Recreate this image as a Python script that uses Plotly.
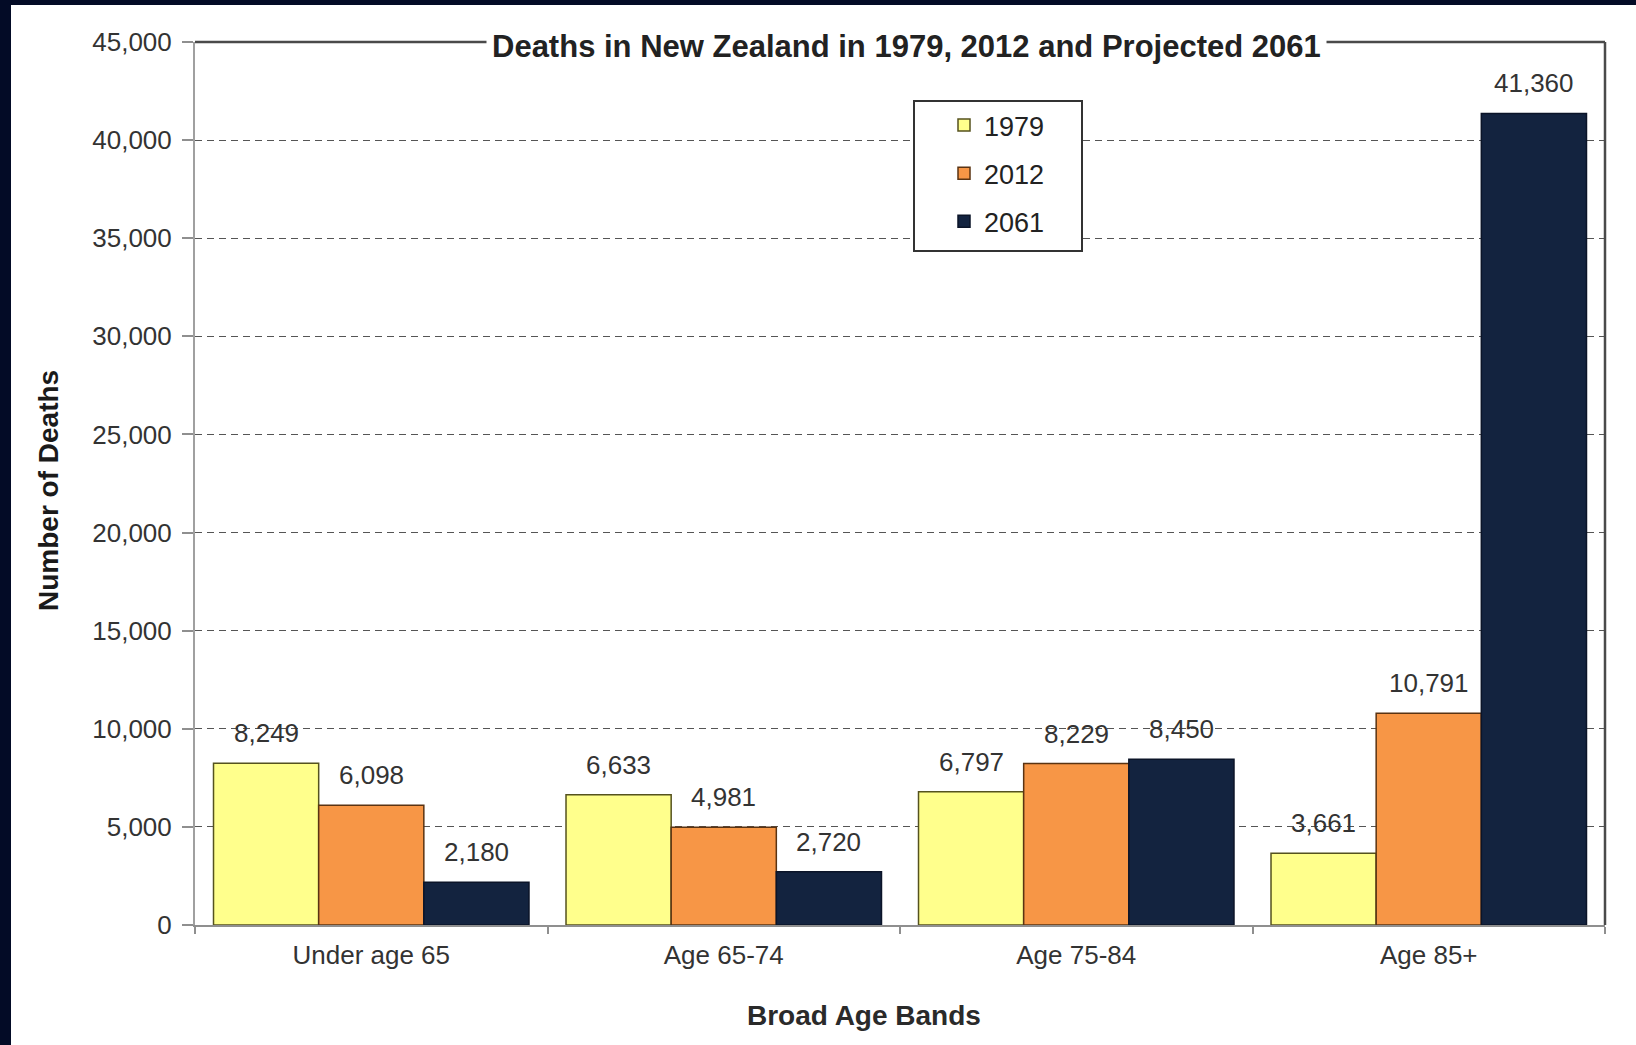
import plotly.graph_objects as go

# Deaths by broad age band
age_bands = ["Under age 65", "Age 65-74", "Age 75-84", "Age 85+"]
years = ["1979", "2012", "2061"]
deaths_1979 = [8249, 6633, 6797, 3661]
deaths_2012 = [6098, 4981, 8229, 10791]
deaths_2061 = [2180, 2720, 8450, 41360]
y_ticks = [0, 5000, 10000, 15000, 20000, 25000, 30000, 35000, 40000, 45000]

series = [deaths_1979, deaths_2012, deaths_2061]
fills = ["#FFFF8C", "#F79646", "#13233F"]
edges = ["#55521E", "#5A3312", "#0B1428"]

W, H = 1636, 1045
ML, MR, MT, MB = 195, 31, 42, 120
PW, PH = W - ML - MR, H - MT - MB
BARGAP = 0.105


def px(x):
    return (x - ML) / PW


def py(y):
    return (H - MB - y) / PH


font_main = "Liberation Sans, Arial, sans-serif"

fig = go.Figure()
for name, vals, fc, ec in zip(years, series, fills, edges):
    fig.add_trace(go.Bar(
        name=name, x=age_bands, y=vals, legendgroup=name,
        marker=dict(color=fc, line=dict(color=ec, width=1.5)),
    ))

# value labels above each bar
bar_w = (1 - BARGAP) / len(series)
annotations = []
for j, vals in enumerate(series):
    for i, v in enumerate(vals):
        annotations.append(dict(
            x=i + (j - 1) * bar_w, y=v, xref="x", yref="y",
            text=f"{v:,}", showarrow=False, yanchor="middle", yshift=30,
            font=dict(family=font_main, size=26, color="#333333"),
        ))

# chart title sitting on the top frame line
annotations.append(dict(
    x=px(906), y=py(47), xref="paper", yref="paper",
    text="<b>Deaths in New Zealand in 1979, 2012 and Projected 2061</b>",
    showarrow=False, xanchor="center", yanchor="middle", bgcolor="white",
    borderpad=5, font=dict(family=font_main, size=31, color="#222222"),
))
# axis titles
annotations.append(dict(
    x=px(864), y=py(1015), xref="paper", yref="paper",
    text="<b>Broad Age Bands</b>", showarrow=False,
    xanchor="center", yanchor="middle",
    font=dict(family=font_main, size=28, color="#2a2a2a"),
))
annotations.append(dict(
    x=px(48), y=py(491), xref="paper", yref="paper",
    text="<b>Number of Deaths</b>", showarrow=False, textangle=-90,
    xanchor="center", yanchor="middle",
    font=dict(family=font_main, size=28, color="#1a1a1a"),
))

shapes = [
    # dark page edges
    dict(type="rect", xref="paper", yref="paper", x0=px(0), x1=px(11),
         y0=py(H), y1=py(0), fillcolor="#030B26", line=dict(width=0)),
    dict(type="rect", xref="paper", yref="paper", x0=px(0), x1=px(W),
         y0=py(5), y1=py(0), fillcolor="#030B26", line=dict(width=0)),
    # top and right frame of the plot area
    dict(type="line", xref="paper", yref="paper", x0=0, x1=1, y0=1, y1=1,
         line=dict(color="#4a4a4a", width=2.5)),
    dict(type="line", xref="paper", yref="paper", x0=1, x1=1, y0=0, y1=1,
         line=dict(color="#4a4a4a", width=2.5)),
    # legend box
    dict(type="rect", xref="paper", yref="paper", x0=px(914), x1=px(1082),
         y0=py(251), y1=py(101), fillcolor="white",
         line=dict(color="#333333", width=2), layer="above"),
]

fig.update_layout(
    width=W, height=H,
    margin=dict(l=ML, r=MR, t=MT, b=MB, pad=0),
    paper_bgcolor="white", plot_bgcolor="white",
    barmode="group", bargap=BARGAP, bargroupgap=0,
    font=dict(family=font_main, size=26, color="#333333"),
    showlegend=True,
    legend=dict(
        x=px(944), y=py(101), xanchor="left", yanchor="top",
        bgcolor="rgba(0,0,0,0)", borderwidth=0,
        tracegroupgap=10, traceorder="grouped",
        font=dict(family=font_main, size=27, color="#222222"),
    ),
    annotations=annotations,
    shapes=shapes,
    xaxis=dict(
        showline=True, linecolor="#8f8f8f", linewidth=2,
        ticks="outside", tickson="boundaries", ticklen=7, tickcolor="#8f8f8f",
        tickwidth=1.5, showgrid=False,
        tickfont=dict(family=font_main, size=26, color="#333333"),
        ticklabelstandoff=6,
    ),
    yaxis=dict(
        range=[0, 45000], tickvals=y_ticks, tickformat=",",
        showline=True, linecolor="#a0a0a0", linewidth=2,
        ticks="outside", ticklen=11, tickcolor="#8f8f8f", tickwidth=1.5,
        showgrid=True, gridcolor="#555555", gridwidth=1.2, griddash="7px,5px",
        zeroline=False,
        tickfont=dict(family=font_main, size=26, color="#333333"),
        ticklabelstandoff=5,
    ),
)

fig.write_html("out.html")
